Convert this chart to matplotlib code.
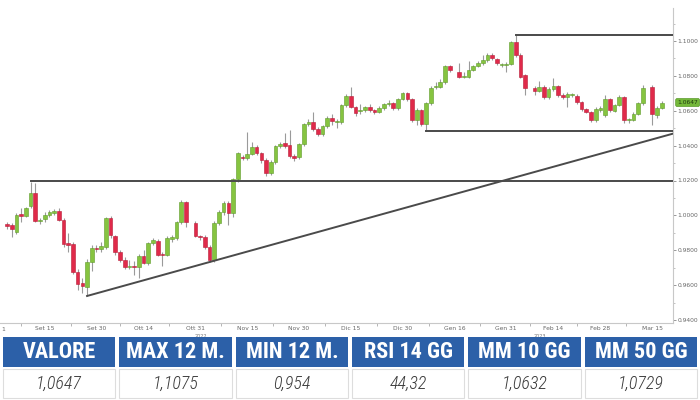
import numpy as np
import pandas as pd
import matplotlib
matplotlib.use("Agg")
import matplotlib.pyplot as plt
from matplotlib.patches import Rectangle

# trading days shown (first visible candle Sep 5, last Mar 17)
dates = pd.bdate_range("2022-09-05", "2023-03-17")
axis_origin = pd.Timestamp("2022-09-01")

nan = np.nan
opens = [0.9950, 0.9945, 0.9902, 1.0006, 0.9998, 1.0054, 1.0127, 0.9965, 0.9977, 1.0002,
         1.0014, 1.0025, 0.9974, 0.9840, 0.9836, 0.9677, 0.9612, 0.9589, 0.9733, 0.9813,
         0.9807, 0.9819, 0.9985, 0.9880, 0.9790, 0.9744, 0.9704, 0.9707, 0.9704, 0.9767,
         0.9727, 0.9842, 0.9853, 0.9779, 0.9773, 0.9865, 0.9870, 0.9962, 1.0077, nan,
         0.9956, 0.9882, 0.9876, 0.9819, 0.9744, 0.9956, 1.0019, 1.0071, 1.0014, 1.0209,
         1.0335, 1.0329, 1.0352, 1.0392, 1.0358, 1.0318, 1.0243, 1.0306, 1.0398, 1.0415,
         1.0404, 1.0341, 1.0335, 1.0409, 1.0524, 1.0536, 1.0495, 1.0467, 1.0513, 1.0558,
         1.0536, 1.0536, 1.0633, 1.0685, 1.0622, 1.0601, 1.0604, 1.0622, 1.0604, 1.0593,
         1.0616, 1.0641, 1.0644, 1.0616, 1.0667, 1.0702, 1.0667, 1.0547, 1.0604, 1.0524,
         1.0644, 1.0736, 1.0736, 1.0765, 1.0857, nan, 1.0822, 1.0794, 1.0794, 1.0834,
         1.0857, 1.0874, 1.0891, 1.0920, 1.0897, 1.0862, 1.0862, 1.0868, 1.0994, 1.0920,
         1.0805, nan, 1.0731, 1.0713, 1.0736, 1.0679, 1.0725, 1.0742, 1.0690, 1.0679,
         1.0690, 1.0685, 1.0650, 1.0610, 1.0593, 1.0547, 1.0604, 1.0576, 1.0667, 1.0599,
         1.0633, 1.0679, 1.0547, 1.0547, 1.0581, 1.0644, nan, 1.0736, 1.0576, 1.0616]
highs = [0.9964, 0.9956, 1.0014, 1.0042, 1.0050, 1.0193, 1.0186, 0.9985, 1.0020, 1.0030,
         1.0037, 1.0042, 0.9985, 0.9899, 0.9850, 0.9690, 0.9641, 0.9750, 0.9830, 0.9830,
         0.9850, 0.9990, 0.9995, 0.9890, 0.9800, 0.9760, 0.9745, 0.9740, 0.9780, 0.9800,
         0.9850, 0.9870, 0.9865, 0.9790, 0.9880, 0.9890, 0.9970, 1.0090, 1.0085, nan,
         0.9965, 0.9890, 0.9885, 0.9830, 0.9965, 1.0030, 1.0085, 1.0085, 1.0215, 1.0365,
         1.0345, 1.0478, 1.0420, 1.0405, 1.0365, 1.0330, 1.0320, 1.0405, 1.0420, 1.0475,
         1.0490, 1.0350, 1.0415, 1.0530, 1.0550, 1.0593, 1.0505, 1.0520, 1.0570, 1.0580,
         1.0550, 1.0640, 1.0695, 1.0735, 1.0630, 1.0640, 1.0630, 1.0640, 1.0610, 1.0625,
         1.0645, 1.0660, 1.0650, 1.0675, 1.0710, 1.0710, 1.0675, 1.0615, 1.0610, 1.0650,
         1.0740, 1.0765, 1.0780, 1.0865, 1.0865, nan, 1.0875, 1.0820, 1.0885, 1.0865,
         1.0885, 1.0920, 1.0930, 1.0930, 1.0905, 1.0875, 1.0880, 1.1000, 1.1034, 1.0930,
         1.0810, nan, 1.0740, 1.0770, 1.0745, 1.0735, 1.0790, 1.0750, 1.0700, 1.0705,
         1.0700, 1.0695, 1.0655, 1.0615, 1.0600, 1.0620, 1.0625, 1.0690, 1.0675, 1.0640,
         1.0690, 1.0685, 1.0560, 1.0590, 1.0650, 1.0750, nan, 1.0750, 1.0625, 1.0655]
lows = [0.9922, 0.9876, 0.9893, 0.9962, 0.9990, 1.0042, 0.9964, 0.9950, 0.9962, 0.9990,
        1.0005, 0.9968, 0.9818, 0.9790, 0.9665, 0.9572, 0.9555, 0.9538, 0.9680, 0.9790,
        0.9790, 0.9810, 0.9870, 0.9775, 0.9735, 0.9690, 0.9690, 0.9660, 0.9641, 0.9720,
        0.9715, 0.9830, 0.9765, 0.9710, 0.9765, 0.9850, 0.9860, 0.9950, 0.9935, nan,
        0.9875, 0.9860, 0.9810, 0.9735, 0.9733, 0.9945, 1.0005, 0.9945, 0.9990, 1.0190,
        1.0320, 1.0320, 1.0345, 1.0345, 1.0300, 1.0225, 1.0230, 1.0295, 1.0385, 1.0385,
        1.0330, 1.0310, 1.0325, 1.0400, 1.0515, 1.0485, 1.0455, 1.0455, 1.0500, 1.0520,
        1.0500, 1.0525, 1.0620, 1.0615, 1.0570, 1.0580, 1.0590, 1.0595, 1.0580, 1.0585,
        1.0605, 1.0630, 1.0605, 1.0605, 1.0660, 1.0655, 1.0535, 1.0520, 1.0515, 1.0484,
        1.0635, 1.0725, 1.0730, 1.0755, 1.0820, nan, 1.0785, 1.0785, 1.0785, 1.0825,
        1.0850, 1.0865, 1.0880, 1.0890, 1.0860, 1.0850, 1.0820, 1.0860, 1.0910, 1.0785,
        1.0690, nan, 1.0690, 1.0705, 1.0670, 1.0670, 1.0715, 1.0680, 1.0665, 1.0620,
        1.0680, 1.0640, 1.0600, 1.0585, 1.0535, 1.0535, 1.0595, 1.0565, 1.0595, 1.0590,
        1.0625, 1.0530, 1.0530, 1.0540, 1.0575, 1.0635, nan, 1.0518, 1.0560, 1.0610]
closes = [0.9937, 0.9922, 1.0002, 0.9998, 1.0041, 1.0127, 0.9968, 0.9974, 1.0002, 1.0018,
          1.0025, 0.9974, 0.9836, 0.9830, 0.9677, 0.9605, 0.9595, 0.9733, 0.9813, 0.9807,
          0.9825, 0.9985, 0.9888, 0.9790, 0.9744, 0.9704, 0.9707, 0.9704, 0.9767, 0.9727,
          0.9842, 0.9859, 0.9773, 0.9773, 0.9870, 0.9876, 0.9962, 1.0077, 0.9962, nan,
          0.9882, 0.9876, 0.9819, 0.9744, 0.9956, 1.0019, 1.0071, 1.0014, 1.0209, 1.0358,
          1.0329, 1.0352, 1.0392, 1.0358, 1.0318, 1.0243, 1.0306, 1.0398, 1.0409, 1.0398,
          1.0341, 1.0329, 1.0409, 1.0524, 1.0536, 1.0495, 1.0467, 1.0513, 1.0558, 1.0541,
          1.0541, 1.0633, 1.0685, 1.0622, 1.0587, 1.0607, 1.0622, 1.0604, 1.0593, 1.0616,
          1.0639, 1.0646, 1.0616, 1.0667, 1.0702, 1.0667, 1.0547, 1.0604, 1.0524, 1.0644,
          1.0731, 1.0742, 1.0765, 1.0857, 1.0834, nan, 1.0794, 1.0799, 1.0834, 1.0857,
          1.0874, 1.0891, 1.0920, 1.0903, 1.0874, 1.0865, 1.0870, 1.0994, 1.0920, 1.0794,
          1.0731, nan, 1.0713, 1.0736, 1.0679, 1.0725, 1.0742, 1.0690, 1.0679, 1.0696,
          1.0693, 1.0650, 1.0610, 1.0593, 1.0547, 1.0610, 1.0616, 1.0667, 1.0604, 1.0633,
          1.0679, 1.0547, 1.0550, 1.0581, 1.0644, 1.0731, nan, 1.0581, 1.0616, 1.0647]

# horizontal levels: (start date, price)
level_dates = ["2022-09-12", "2023-01-06", "2023-02-02"]
level_values = [1.0200, 1.0486, 1.1034]
# rising trend line through two lows
trend_dates = ["2022-09-28", "2022-11-04"]
trend_values = [0.9538, 0.9740]

tick_dates = ["2022-09-15", "2022-09-30", "2022-10-14", "2022-10-31", "2022-11-15",
              "2022-11-30", "2022-12-15", "2022-12-30", "2023-01-16", "2023-01-31",
              "2023-02-14", "2023-02-28", "2023-03-15"]
tick_names = ["Set 15", "Set 30", "Ott 14", "Ott 31", "Nov 15", "Nov 30", "Dic 15",
              "Dic 30", "Gen 16", "Gen 31", "Feb 14", "Feb 28", "Mar 15"]
last_price = "1.0647"

headers = ["VALORE", "MAX 12 M.", "MIN 12 M.", "RSI 14 GG", "MM 10 GG", "MM 50 GG"]
values = ["1,0647", "1,1075", "0,954", "44,32", "1,0632", "1,0729"]

GREEN = "#86c440"
GREEN_EDGE = "#5f9a2a"
RED = "#e02a4a"
RED_EDGE = "#b81c37"
LINE = "#4a4a4a"
BLUE = "#2c60a8"
FONTS = ["Roboto Condensed", "Liberation Sans Narrow", "Roboto", "DejaVu Sans"]


def bpos(d):
    """Business-day position counted from Sep 1 2022."""
    return len(pd.bdate_range(axis_origin, pd.Timestamp(d))) - 1


fig = plt.figure(figsize=(7, 4), dpi=100)
ax = fig.add_axes([0, 1 - 323 / 400, 673 / 700, 315 / 400])

x = np.array([bpos(d) for d in dates], dtype=float)
o = np.array(opens)
h = np.array(highs)
l = np.array(lows)
c = np.array(closes)
ok = ~np.isnan(o)

up = ok & (c >= o)
dn = ok & (c < o)
ax.vlines(x[ok], l[ok], h[ok], color="#9a9a9a", lw=0.8, zorder=2)
body = np.maximum(np.abs(c - o), 0.0004)
ax.bar(x[up], body[up], bottom=np.minimum(o, c)[up], width=0.78,
       color=GREEN, edgecolor=GREEN_EDGE, lw=0.4, zorder=3)
ax.bar(x[dn], body[dn], bottom=np.minimum(o, c)[dn], width=0.78,
       color=RED, edgecolor=RED_EDGE, lw=0.4, zorder=3)

xmin, xmax = 0.514, 143.4
ax.set_xlim(xmin, xmax)
ax.set_ylim(0.9383, 1.1189)

for d, v in zip(level_dates, level_values):
    ax.plot([bpos(d), xmax], [v, v], color=LINE, lw=1.4, zorder=4)

tx = [bpos(d) for d in trend_dates]
slope = (trend_values[1] - trend_values[0]) / (tx[1] - tx[0])
ax.plot([tx[0], xmax], [trend_values[0], trend_values[0] + slope * (xmax - tx[0])],
        color=LINE, lw=1.4, zorder=4)

# axes styling
for s in ["top", "left"]:
    ax.spines[s].set_visible(False)
ax.spines["right"].set_color("#c8c8c8")
ax.spines["bottom"].set_color("#c8c8c8")
ax.yaxis.tick_right()
ax.set_yticks(np.arange(0.94, 1.1001, 0.02))
ax.set_yticks(np.arange(0.95, 1.11, 0.02), minor=True)
ax.yaxis.set_major_formatter(plt.FormatStrFormatter("%.4f"))
ax.tick_params(axis="y", which="major", labelsize=4.3, labelcolor="#666666",
               color="#888888", length=2, width=0.6, pad=1)
ax.tick_params(axis="y", which="minor", color="#aaaaaa", length=1.5, width=0.5)

tpos = [bpos(d) for d in tick_dates]
ax.set_xticks(tpos)
ax.set_xticklabels(tick_names)
ax.set_xticks([(a + b) / 2 for a, b in zip([bpos("2022-09-01")] + tpos[:-1], tpos)], minor=True)
ax.tick_params(axis="x", which="major", labelsize=4.3, labelcolor="#666666", length=0, pad=2)
ax.tick_params(axis="x", which="minor", color="#999999", length=2, width=0.5)
# only the day of the first (clipped) label "Set 1" is visible
ax.text(xmin + 0.3, -0.012, "1", transform=ax.get_xaxis_transform(),
        ha="left", va="top", fontsize=4.3, color="#666666", clip_on=False)

# year captions
ax.text((xmin + bpos("2022-12-30")) / 2, -0.035, "2022", transform=ax.get_xaxis_transform(),
        ha="center", va="top", fontsize=3.5, color="#777777")
ax.text((bpos("2023-01-02") + xmax) / 2, -0.035, "2023", transform=ax.get_xaxis_transform(),
        ha="center", va="top", fontsize=3.5, color="#777777")

# last price tag on the right axis
ax.annotate(last_price, xy=(1.0, c[-1]), xycoords=("axes fraction", "data"),
            xytext=(3, 0), textcoords="offset points", ha="left", va="center",
            fontsize=4.3, color="#1f3a10", annotation_clip=False,
            bbox=dict(boxstyle="round,pad=0.25", fc="#74b83a", ec="#5a9a2a", lw=0.5))

# table of indicators
tab = fig.add_axes([0, 0, 1, 1])
tab.set_xlim(0, 700)
tab.set_ylim(400, 0)
tab.axis("off")
tab.patch.set_alpha(0)

n = len(headers)
left, right, gap = 3, 697, 4
w = (right - left - gap * (n - 1)) / n
for k in range(n):
    x0 = left + k * (w + gap)
    tab.add_patch(Rectangle((x0, 337), w, 30, fc=BLUE, ec="none"))
    tab.add_patch(Rectangle((x0, 369), w, 29, fc="white", ec="#dddddd", lw=0.8))
    tab.text(x0 + w / 2, 352.5, headers[k], ha="center", va="center", color="white",
             fontsize=16, fontweight="bold", family=FONTS)
    tab.text(x0 + w / 2, 384, values[k], ha="center", va="center", color="#3a3a3a",
             fontsize=13, fontstyle="italic", fontweight="light", family=FONTS)

fig.savefig("out.png", dpi=100)
